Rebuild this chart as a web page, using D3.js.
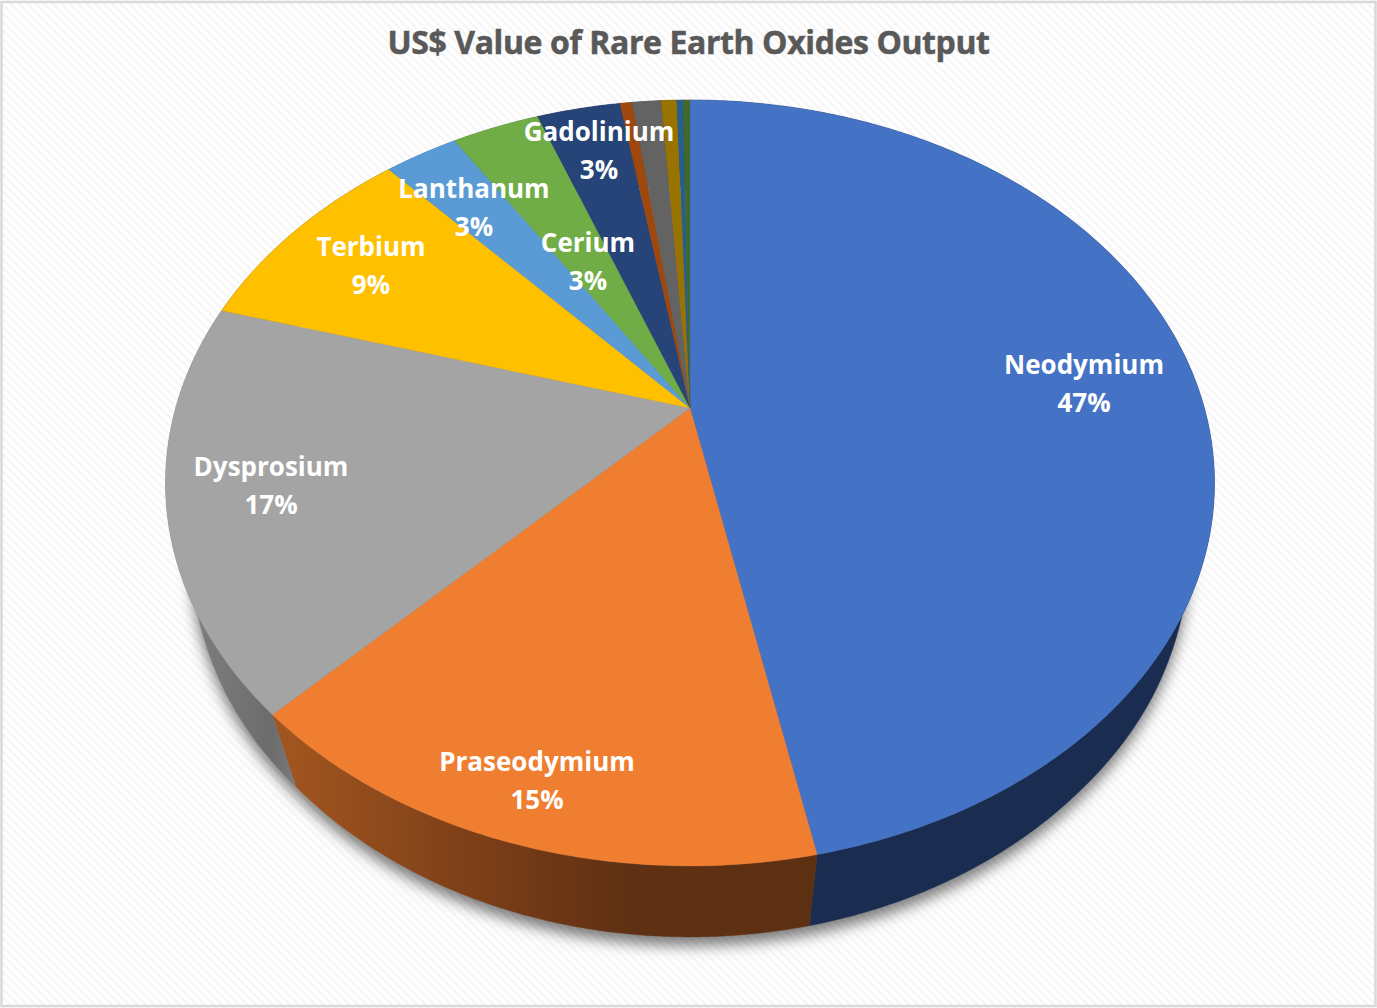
<!DOCTYPE html>
<html><head><meta charset="utf-8">
<script src="https://cdn.jsdelivr.net/npm/d3@7"></script>
<style>html,body{margin:0;padding:0;background:#fff;overflow:hidden}svg{display:block}text{font-family:"Open Sans",sans-serif;font-weight:700}</style>
</head><body><svg id="c" width="1377" height="1008"></svg>
<script>
const categories=["Neodymium","Praseodymium","Dysprosium","Terbium","Lanthanum","Cerium","Gadolinium","Samarium","Yttrium","Europium","Holmium","Other"];
const values=[46.8,15.5,17.2,8.8,2.75,3.25,3.1,0.45,1.08,0.58,0.23,0.26];
const percentLabels=["47%","15%","17%","9%","3%","3%","3%",null,null,null,null,null];
const colors=["#4472C4","#F07E30","#A4A4A4","#FFC000","#5B9BD5","#70AD47","#264478","#9E480E","#636363","#997300","#255E91","#43682B"];
const labelAnchors=[[1084,374],[537,771],[271,476],[371,256],[474,198],[588,252],[599,141]];

const svg=d3.select("#c"),defs=svg.append("defs");
const P={a:514.3,b:288.4,c:408,k:-0.1958,cx:690,vy:2000};
const depth=d3.scaleLinear().domain([-1,0.3,0.5,0.72,1]).range([0.045,0.0495,0.0548,0.056,0.0626]);
const top3=th=>{const u=Math.sin(th),v=-Math.cos(th),w=1+P.k*v;return [P.cx+P.a*u/w,(P.b*v+P.c)/w];};
const low3=th=>{const p=top3(th),t=depth(-Math.cos(th));return [p[0]+t*(P.cx-p[0]),p[1]+t*(P.vy-p[1])];};
const line=d3.line();
const sample=(a,b)=>{const n=Math.max(2,Math.ceil((b-a)/0.01));return d3.range(n+1).map(i=>a+(b-a)*i/n);};
const arcs=d3.pie().sort(null).value(d=>d)(values);

const pat=defs.append("pattern").attr("id","bg").attr("width",6).attr("height",6).attr("patternUnits","userSpaceOnUse").attr("patternTransform","rotate(45)");
pat.append("rect").attr("width",6).attr("height",6).attr("fill","#ffffff");
pat.append("rect").attr("width",6).attr("height",2.6).attr("fill","#f6f6f6");
const blur=defs.append("filter").attr("id","sh").attr("x","-10%").attr("y","-10%").attr("width","120%").attr("height","125%");
blur.append("feGaussianBlur").attr("stdDeviation",7);
const grad=(id,x1,x2,stops)=>{const g=defs.append("linearGradient").attr("id",id).attr("gradientUnits","userSpaceOnUse").attr("x1",x1).attr("x2",x2).attr("y1",0).attr("y2",0);stops.forEach(s=>g.append("stop").attr("offset",s[0]).attr("stop-color",s[1]));};
grad("sideO",294,808,[[0,"#a0541f"],[0.35,"#7c3f18"],[0.65,"#5f3013"],[1,"#5e3012"]]);
grad("sideG",185,294,[[0,"#808080"],[0.8,"#6c6c6c"],[1,"#7a7a7a"]]);
const sideFill=["#1a2d50","url(#sideO)","url(#sideG)","#7f6000","#2e5f8e","#3f6528","#15294a","#5a2a08","#3b3b3b","#5c4500","#16385a","#283e1a"];

svg.append("rect").attr("width",1377).attr("height",1008).attr("fill","url(#bg)");
svg.append("rect").attr("x",1.5).attr("y",2).attr("width",1374).attr("height",1004).attr("fill","none").attr("stroke","#d9d9d9").attr("stroke-width",2.5);

const all=sample(0,2*Math.PI);
svg.append("path").attr("d",line(all.map(low3))+"Z").attr("transform","translate(0,9)").attr("fill","#000").attr("fill-opacity",0.5).attr("filter","url(#sh)");

const g=svg.append("g");
g.selectAll("path.side").data(arcs).join("path").attr("class","side")
 .attr("d",d=>{const s=sample(d.startAngle,d.endAngle);return line(s.map(top3).concat(s.slice().reverse().map(low3)))+"Z";})
 .attr("fill",(d,i)=>sideFill[i]).attr("stroke",(d,i)=>sideFill[i]).attr("stroke-width",0.4);
g.selectAll("path.face").data(arcs).join("path").attr("class","face")
 .attr("d",d=>line([[P.cx,P.c]].concat(sample(d.startAngle,d.endAngle).map(top3)))+"Z")
 .attr("fill",(d,i)=>colors[i]).attr("stroke",(d,i)=>colors[i]).attr("stroke-width",0.3);

svg.append("text").attr("x",688.5).attr("y",54).attr("text-anchor","middle").attr("font-size",32).attr("letter-spacing",-0.4).attr("stroke","#595959").attr("stroke-width",0.5).attr("fill","#595959").text("US$ Value of Rare Earth Oxides Output");
const lab=svg.append("g").attr("fill","#fff").attr("text-anchor","middle").attr("font-size",26);
labelAnchors.forEach((p,i)=>{
  lab.append("text").attr("x",p[0]).attr("y",p[1]).text(categories[i]);
  lab.append("text").attr("x",p[0]).attr("y",p[1]+38).text(percentLabels[i]);
});
</script></body></html>
